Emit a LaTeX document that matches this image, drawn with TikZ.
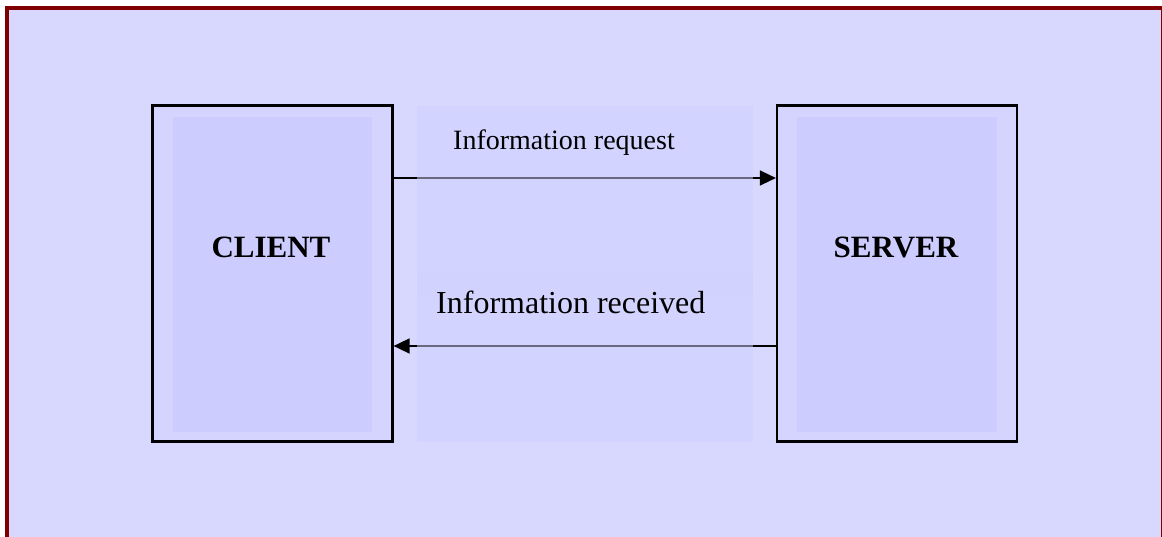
\documentclass[tikz,border=0pt]{standalone}
\usepackage{fontspec}
\setmainfont{Liberation Serif}
\usetikzlibrary{arrows.meta}
\definecolor{pagebg}{RGB}{216,216,255}
\definecolor{frame}{RGB}{128,0,0}
\definecolor{boxfill}{RGB}{212,212,255}
\definecolor{boxinner}{RGB}{204,204,255}
\definecolor{bandfill}{RGB}{208,208,255}
\tikzset{
  unitbox/.style={draw=black, line width=2.2pt, fill=boxfill, inner sep=0pt},
  innerpanel/.style={fill=boxinner, draw=none},
  boxlabel/.style={font=\fontsize{31}{31}\selectfont\bfseries, inner sep=0pt, anchor=base},
  msglabel/.style={inner sep=0pt, anchor=base west},
  band/.style={fill=bandfill, fill opacity=0.5, draw=none},
  msg/.style={draw=black, line width=1.6pt, -{Triangle[length=16pt,width=15pt]}},
}
\begin{document}
\begin{tikzpicture}[x=1pt,y=-1pt]
\useasboundingbox (0,0) rectangle (1162,537);
\fill[white] (0,0) rectangle (1162,537);
\begin{scope}
\clip (0,0) rectangle (1162,537);
\draw[frame, line width=4.5pt, fill=pagebg] (7,8) rectangle (1163,548);
\end{scope}

% client and server boxes
\node[unitbox, minimum width=240pt, minimum height=336pt] (client) at (272.5,273.5) {};
\node[unitbox, minimum width=240pt, minimum height=336pt] (server) at (897,273.5) {};
\fill[innerpanel] (173,117) rectangle (372,432);
\fill[innerpanel] (797,117) rectangle (997,432);

\node[boxlabel] (clientlabel) at (271,258) {CLIENT};
\node[boxlabel] (serverlabel) at (896,258) {SERVER};

% message arrows
\coordinate (reqstart) at (client.east |- 0,178);
\coordinate (reqend) at (server.west |- 0,178);
\coordinate (recstart) at (server.west |- 0,346);
\coordinate (recend) at (client.east |- 0,346);
\draw[msg] (reqstart) -- (reqend);
\draw[msg] (recstart) -- (recend);

% translucent label panels over the arrows
\fill[band] (417,106) rectangle (753,297);
\fill[band] (417,297) rectangle (753,442);
\fill[bandfill, fill opacity=0.2] (417,272) rectangle (753,297);

\node[msglabel, font=\fontsize{28}{28}\selectfont] (reqlabel) at (453,150) {Information request};
\node[msglabel, font=\fontsize{32}{32}\selectfont] (reclabel) at (436,314) {Information received};
\end{tikzpicture}
\end{document}
